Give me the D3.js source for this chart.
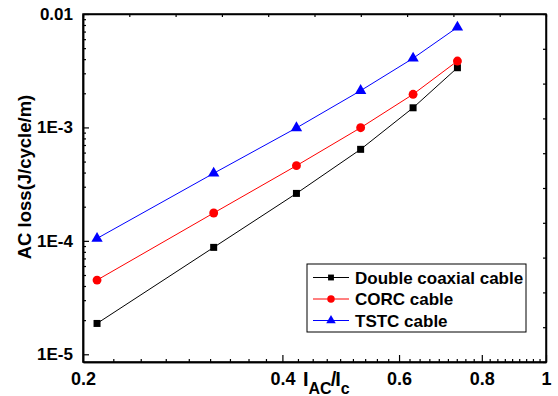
<!DOCTYPE html>
<html>
<head lang="en">
    <meta charset="UTF-8">
    <title>AC loss</title>
    <script src="https://d3js.org/d3.v7.min.js"></script>
</head>
<body style="margin:0;background:#fff">
<svg id="chart" width="558" height="396"></svg>
<style>
    text { font-family: "Liberation Sans", Arial, sans-serif; font-weight: bold; fill: #000; }
    .axis path, .axis line { stroke: #000; }
</style>
<script>

    // data
    const I_RATIO = [0.21, 0.315, 0.42, 0.525, 0.63, 0.735];
    const DOUBLE_COAXIAL = [1.87e-5, 8.76e-5, 2.62e-4, 6.41e-4, 1.49e-3, 3.36e-3];
    const CORC = [4.51e-5, 1.76e-4, 4.6e-4, 9.94e-4, 1.96e-3, 3.85e-3];
    const TSTC = [1.05e-4, 3.94e-4, 9.9e-4, 2.11e-3, 4.07e-3, 7.63e-3];
    const SERIES_NAMES = ['Double coaxial cable', 'CORC cable', 'TSTC cable'];

    const X_TICKS = [0.2, 0.4, 0.6, 0.8, 1];
    const Y_TICKS = [1e-5, 1e-4, 1e-3, 0.01];
    const Y_TICK_LABELS = ['1E-5', '1E-4', '1E-3', '0.01'];

    let svg = d3.select('#chart');
    const M = {left: 83, right: 546, top: 14, bottom: 362};

    let x = d3.scaleLog().domain([0.2, 1]).range([M.left, M.right]);
    let y = d3.scaleLog().domain([8.55e-6, 0.01]).range([M.bottom, M.top]);

    // minor ticks: 8 between each pair of major x ticks, 2..9 per decade on y
    let xMinor = [];
    for (let i = 0; i < X_TICKS.length - 1; i++) {
        let step = (X_TICKS[i + 1] - X_TICKS[i]) / 9;
        for (let k = 1; k < 9; k++) xMinor.push(X_TICKS[i] + k * step);
    }
    let yMinor = [];
    [1e-5, 1e-4, 1e-3].forEach(d => { for (let k = 2; k < 10; k++) yMinor.push(d * k); });

    //bottom axis
    svg.append('g').attr('class', 'axis')
        .attr('transform', `translate(0,${M.bottom})`)
        .call(d3.axisBottom(x).tickValues(xMinor).tickSizeInner(-3).tickSizeOuter(0).tickFormat(''));
    let gx = svg.append('g').attr('class', 'axis')
        .attr('transform', `translate(0,${M.bottom})`)
        .call(d3.axisBottom(x).tickValues(X_TICKS).tickSizeInner(-7).tickSizeOuter(0)
            .tickPadding(10).tickFormat(d => String(d)));
    gx.selectAll('text').style('font-size', '18px');

    //left axis
    svg.append('g').attr('class', 'axis')
        .attr('transform', `translate(${M.left},0)`)
        .call(d3.axisLeft(y).tickValues(yMinor).tickSizeInner(-3).tickSizeOuter(0).tickFormat(''));
    let gy = svg.append('g').attr('class', 'axis')
        .attr('transform', `translate(${M.left},0)`)
        .call(d3.axisLeft(y).tickValues(Y_TICKS).tickSizeInner(-6).tickSizeOuter(0)
            .tickPadding(10).tickFormat((d, i) => Y_TICK_LABELS[i]));
    gy.selectAll('text').style('font-size', '17px');

    //top and right axes, plain evenly spaced ticks
    let xLin = d3.scaleLinear().domain([0, 10]).range([M.left, M.right]);
    let yLin = d3.scaleLinear().domain([0, 10]).range([M.bottom, M.top]);
    svg.append('g').attr('class', 'axis')
        .attr('transform', `translate(0,${M.top})`)
        .call(d3.axisTop(xLin).ticks(10).tickSizeInner(-3).tickSizeOuter(0).tickFormat(''));
    svg.append('g').attr('class', 'axis')
        .attr('transform', `translate(${M.right},0)`)
        .call(d3.axisRight(yLin).ticks(10).tickSizeInner(-3).tickSizeOuter(0).tickFormat(''));

    svg.selectAll('.axis').attr('font-family', null).attr('font-size', null);
    svg.selectAll('.axis path.domain').attr('stroke-width', 1.5);
    svg.selectAll('.axis line').attr('stroke-width', 1.2);

    //frame
    svg.append('rect').attr('x', M.left).attr('y', M.top)
        .attr('width', M.right - M.left).attr('height', M.bottom - M.top)
        .attr('fill', 'none').attr('stroke', '#000').attr('stroke-width', 1.5);

    //axis titles
    svg.append('text')
        .attr('transform', 'translate(31,177) rotate(-90)')
        .attr('text-anchor', 'middle')
        .style('font-size', '18.5px')
        .text('AC loss(J/cycle/m)');

    let xt = svg.append('text').attr('x', 303).attr('y', 386).style('font-size', '20px');
    xt.append('tspan').text('I');
    xt.append('tspan').attr('dy', 8).style('font-size', '16px').text('AC');
    xt.append('tspan').attr('dy', -8).attr('dx', -1).text('/');
    xt.append('tspan').attr('dx', -1).text('I');
    xt.append('tspan').attr('dy', 8).style('font-size', '16px').text('c');

    //series
    const SERIES = [
        {name: SERIES_NAMES[0], values: DOUBLE_COAXIAL, color: '#000000', symbol: d3.symbolSquare, size: 49},
        {name: SERIES_NAMES[1], values: CORC, color: '#ff0000', symbol: d3.symbolCircle, size: 62},
        {name: SERIES_NAMES[2], values: TSTC, color: '#0000ff', symbol: d3.symbolTriangle, size: 56}
    ];

    let line = d3.line().x(d => x(d[0])).y(d => y(d[1]));

    SERIES.forEach(s => {
        let pts = I_RATIO.map((v, i) => [v, s.values[i]]);
        svg.append('path').datum(pts)
            .attr('d', line)
            .attr('fill', 'none')
            .attr('stroke', s.color)
            .attr('stroke-width', 1);
        svg.append('g').selectAll('path').data(pts).enter()
            .append('path')
            .attr('d', d3.symbol().type(s.symbol).size(s.size))
            .attr('transform', d => `translate(${x(d[0])},${y(d[1])})`)
            .attr('fill', s.color);
    });

    //legend
    let lg = svg.append('g').attr('transform', 'translate(307,264)');
    lg.append('rect').attr('width', 219).attr('height', 68)
        .attr('fill', '#fff').attr('stroke', '#000').attr('stroke-width', 1);
    SERIES.forEach((s, i) => {
        let cy = 13.5 + i * 21.5;
        lg.append('line').attr('x1', 6).attr('x2', 42).attr('y1', cy).attr('y2', cy)
            .attr('stroke', s.color).attr('stroke-width', 1);
        lg.append('path').attr('d', d3.symbol().type(s.symbol).size(s.size * 0.7))
            .attr('transform', `translate(24,${cy})`).attr('fill', s.color);
        lg.append('text').attr('x', 48).attr('y', cy).attr('dy', '0.36em')
            .style('font-size', '17px').text(s.name);
    });

</script>
</body>
</html>
